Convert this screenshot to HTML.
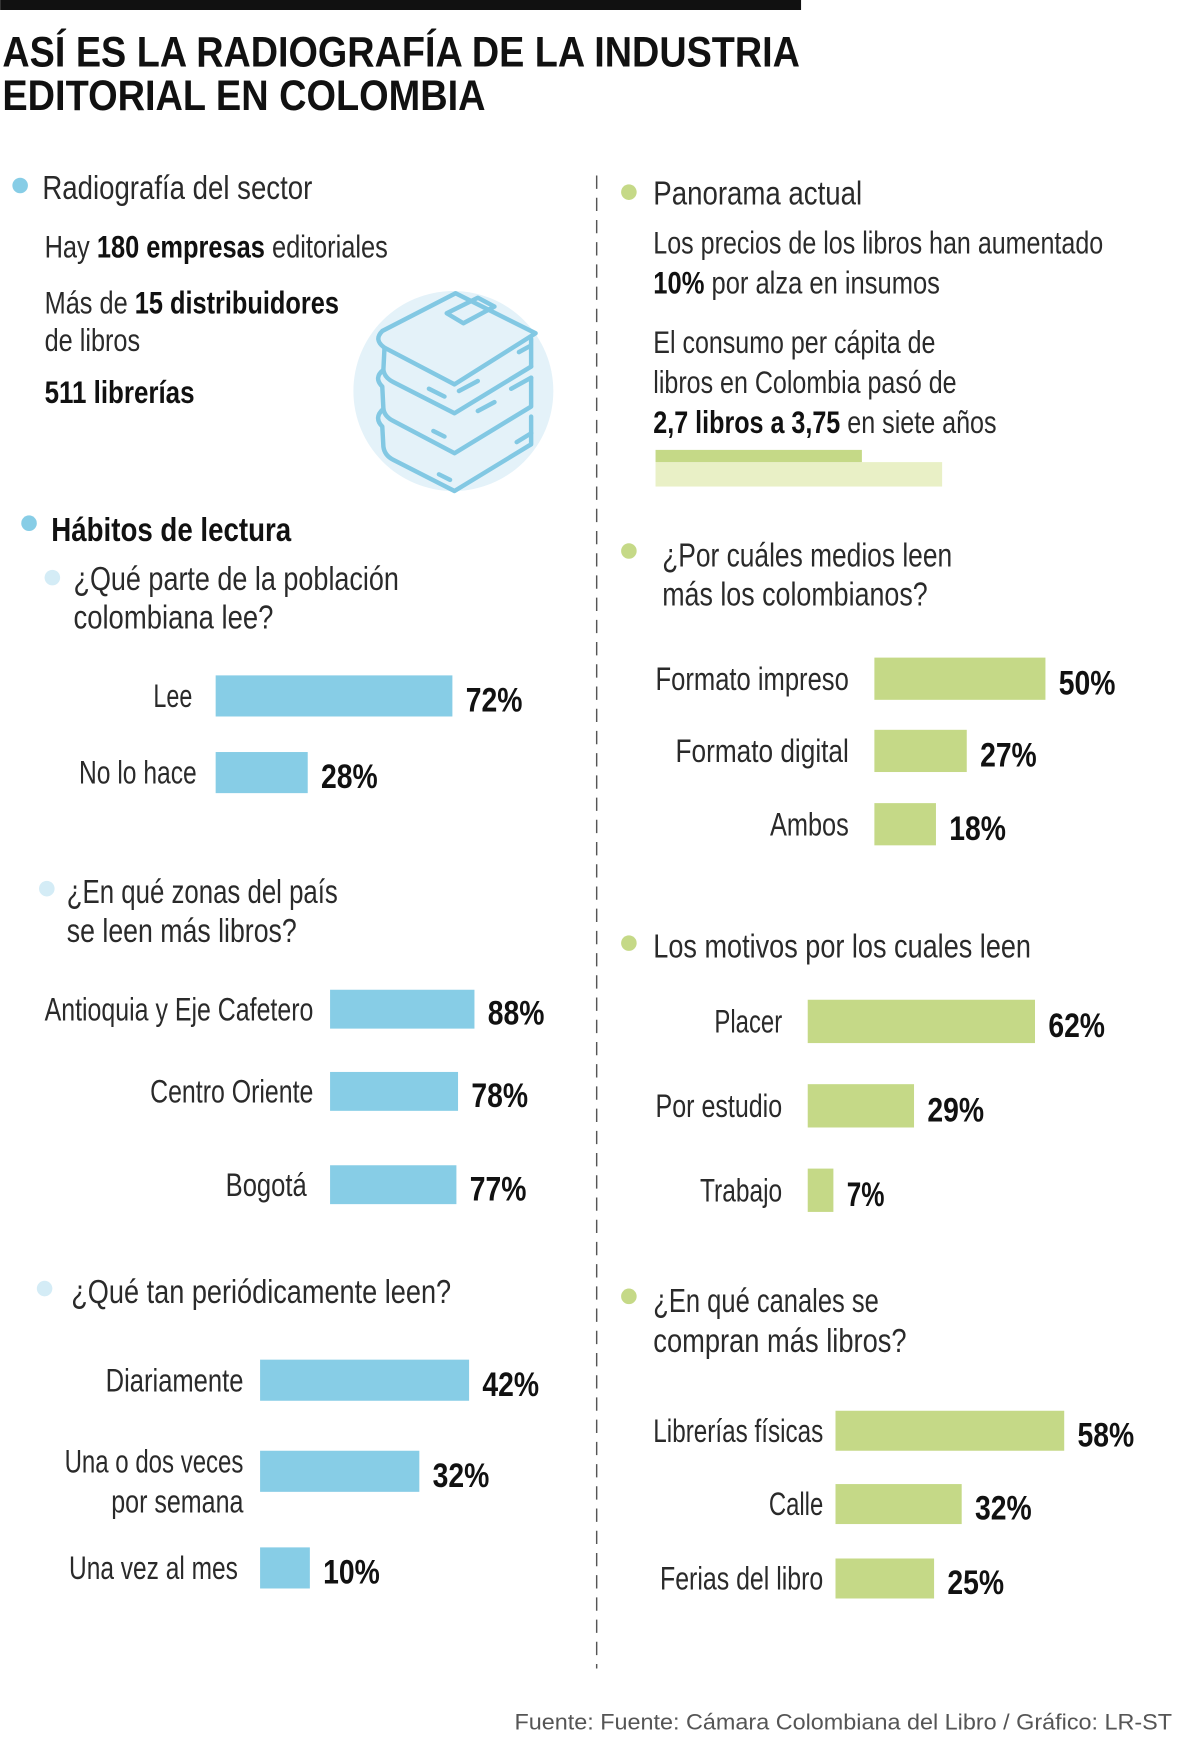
<!DOCTYPE html>
<html><head><meta charset="utf-8">
<style>
html,body{margin:0;padding:0;background:#fff;}
svg{display:block;}
text{font-family:"Liberation Sans Narrow","Liberation Sans",sans-serif;fill:#2a2a2a;}
.b{font-weight:bold;fill:#111;}
.t{font-weight:bold;fill:#111;}
</style></head>
<body>
<svg id="chart" width="1200" height="1754" viewBox="0 0 1080 1579" xmlns="http://www.w3.org/2000/svg">
<rect x="0" y="0" width="721" height="9" fill="#111"/>
<text class="t" x="2" y="60" font-size="38" textLength="718" lengthAdjust="spacingAndGlyphs">ASÍ ES LA RADIOGRAFÍA DE LA INDUSTRIA</text>
<text class="t" x="2" y="99" font-size="38" textLength="435" lengthAdjust="spacingAndGlyphs">EDITORIAL EN COLOMBIA</text>
<line x1="537" y1="158" x2="537" y2="1502" stroke="#555" stroke-width="1.3" stroke-dasharray="12,8"/>

<circle cx="18" cy="167" r="7" fill="#87cde6"/>
<text x="38" y="179" font-size="30" textLength="243" lengthAdjust="spacingAndGlyphs">Radiografía del sector</text>
<text x="40" y="232" font-size="28" textLength="309" lengthAdjust="spacingAndGlyphs">Hay <tspan class="b">180 empresas</tspan> editoriales</text>
<text x="40" y="282" font-size="28" textLength="265" lengthAdjust="spacingAndGlyphs">Más de <tspan class="b">15 distribuidores</tspan></text>
<text x="40" y="316" font-size="28" textLength="86" lengthAdjust="spacingAndGlyphs">de libros</text>
<text class="b" x="40" y="363" font-size="28" textLength="135" lengthAdjust="spacingAndGlyphs">511 librerías</text>
<g>
<circle cx="408" cy="352" r="90" fill="#e4f2f9"/>
<g fill="none" stroke="#82c8e3" stroke-width="4" stroke-linejoin="round" stroke-linecap="round">
<path d="M410 264 L482 300 L409 346 L346 313 Q336 306 344 298 Z"/>
<path d="M402 282 L430 268 L445 276 L417 291 Z"/>
<path d="M346 313 L345 333 Q346 340 354 344 L409 372 L478 330"/>
<path d="M478 305 L478 330 M467 317 L478 311"/>
<path d="M413 352 L430 343 M386 350 L400 357"/>
<path d="M345 333 Q336 340 344 348 L345 368 Q346 375 354 379 L409 408 L478 366 L478 340"/>
<path d="M478 340 L460 350 M430 370 L445 362 M390 388 L400 393"/>
<path d="M345 368 Q336 376 344 384 L345 402 Q346 410 354 414 L409 442 L478 400 L478 375"/>
<path d="M478 390 L465 398 M395 427 L405 432"/>
</g></g>

<circle cx="566" cy="173" r="7" fill="#c5d987"/>
<text x="588" y="184" font-size="30" textLength="188" lengthAdjust="spacingAndGlyphs">Panorama actual</text>
<text x="588" y="228" font-size="28" textLength="405" lengthAdjust="spacingAndGlyphs">Los precios de los libros han aumentado</text>
<text x="588" y="264" font-size="28" textLength="258" lengthAdjust="spacingAndGlyphs"><tspan class="b">10%</tspan> por alza en insumos</text>
<text x="588" y="318" font-size="28" textLength="254" lengthAdjust="spacingAndGlyphs">El consumo per cápita de</text>
<text x="588" y="354" font-size="28" textLength="273" lengthAdjust="spacingAndGlyphs">libros en Colombia pasó de</text>
<text x="588" y="390" font-size="28" textLength="309" lengthAdjust="spacingAndGlyphs"><tspan class="b">2,7 libros a 3,75</tspan> en siete años</text>
<g id="consumo"></g>

<g id="charts"></g>
<text x="463" y="1557" font-size="20" style="font-family:'Liberation Sans',sans-serif;fill:#555" textLength="592" lengthAdjust="spacingAndGlyphs">Fuente: Fuente: Cámara Colombiana del Libro / Gráfico: LR-ST</text>
</svg>
<script>
const NS="http://www.w3.org/2000/svg";
const consumoYears=["antes","ahora"];
const consumoValues=[2.7,3.75];

const leeCats=["Lee","No lo hace"];
const leeVals=[72,28];
const zonasCats=["Antioquia y Eje Cafetero","Centro Oriente","Bogotá"];
const zonasVals=[88,78,77];
const periodCats=[["Diariamente"],["Una o dos veces","por semana"],["Una vez al mes"]];
const periodVals=[42,32,10];
const mediosCats=["Formato impreso","Formato digital","Ambos"];
const mediosVals=[50,27,18];
const motivosCats=["Placer","Por estudio","Trabajo"];
const motivosVals=[62,29,7];
const canalesCats=["Librerías físicas","Calle","Ferias del libro"];
const canalesVals=[58,32,25];

function mk(tag,attrs,parent){const e=document.createElementNS(NS,tag);for(const k in attrs)e.setAttribute(k,attrs[k]);parent.appendChild(e);return e;}

(function(){
  const g=document.getElementById('consumo');
  const x0=590, scale=68.8;
  const r1=mk('rect',{x:x0,y:416,width:consumoValues[1]*scale,height:22,fill:'#e9f0c6'},g);
  
  
  const r0=mk('rect',{x:x0,y:405,width:consumoValues[0]*scale,height:11,fill:'#c5d987'},g);
  
  
})();

const root=document.getElementById('charts');
function section(cfg){
  const g=mk('g',{},root);
  
  
  const d=mk('circle',{cx:cfg.dot[0],cy:cfg.dot[1],r:7,fill:cfg.dotColor},g);
  
  
  cfg.title.forEach((t,i)=>{
    const tx=mk('text',{x:cfg.tx,y:cfg.ty[i],'font-size':30,textLength:cfg.tw[i],lengthAdjust:'spacingAndGlyphs'},g);
    tx.textContent=t;
    
    
  });
  const xs=v=>v*cfg.scale;
  cfg.vals.forEach((v,i)=>{
    const y=cfg.rowY[i], h=cfg.barH;
    const r=mk('rect',{x:cfg.x0,y:y,width:xs(v),height:h,fill:cfg.color},g);
    
    
    const lines=Array.isArray(cfg.cats[i])?cfg.cats[i]:[cfg.cats[i]];
    const widths=Array.isArray(cfg.lw[i])?cfg.lw[i]:[cfg.lw[i]];
    lines.forEach((ln,j)=>{
      const off=lines.length>1?(j===0?-9:27):0;
      const t=mk('text',{x:cfg.x0-cfg.lgap[i],y:y+h/2+10+off,'font-size':29,'text-anchor':'end',textLength:widths[j],lengthAdjust:'spacingAndGlyphs'},g);
      t.textContent=ln;
      
      
    });
    const s=v+'%';
    const vt=mk('text',{x:cfg.x0+xs(v)+12,y:y+h/2+14,'font-size':31,class:'b',textLength:s.length*17,lengthAdjust:'spacingAndGlyphs'},g);
    vt.textContent=s;
    
    
  });
}
const BLUE='#87cde6', GREEN='#c5d987';
(function(){
  const d=mk('circle',{cx:26,cy:471,r:7,fill:BLUE},root);
  
  
  const t=mk('text',{x:46,y:487,'font-size':30,class:'b',textLength:216,lengthAdjust:'spacingAndGlyphs'},root);
  t.textContent='Hábitos de lectura';
  
  
})();
section({name:'lee-chart',dot:[47,520],dotColor:'#d4ecf6',title:['¿Qué parte de la población','colombiana lee?'],tx:66,ty:[531,566],tw:[293,180],
  cats:leeCats,vals:leeVals,x0:194,scale:2.96,rowY:[608,677],barH:37,color:BLUE,lgap:[21,17],lw:[35,106]});
section({name:'zonas-chart',dot:[42,800],dotColor:'#d4ecf6',title:['¿En qué zonas del país','se leen más libros?'],tx:60,ty:[813,848],tw:[244,207],
  cats:zonasCats,vals:zonasVals,x0:297,scale:1.477,rowY:[891,965,1049],barH:35,color:BLUE,lgap:[15,15,21],lw:[242,147,73]});
section({name:'periodicidad-chart',dot:[40,1160],dotColor:'#d4ecf6',title:['¿Qué tan periódicamente leen?'],tx:64,ty:[1173],tw:[342],
  cats:periodCats,vals:periodVals,x0:234,scale:4.48,rowY:[1224,1306,1393],barH:37,color:BLUE,lgap:[15,15,20],lw:[124,[161,119],152]});
section({name:'medios-chart',dot:[566,496],dotColor:GREEN,title:['¿Por cuáles medios leen','más los colombianos?'],tx:596,ty:[510,545],tw:[261,239],
  cats:mediosCats,vals:mediosVals,x0:787,scale:3.08,rowY:[592,657,723],barH:38,color:GREEN,lgap:[23,23,23],lw:[174,156,71]});
section({name:'motivos-chart',dot:[566,849],dotColor:GREEN,title:['Los motivos por los cuales leen'],tx:588,ty:[862],tw:[340],
  cats:motivosCats,vals:motivosVals,x0:727,scale:3.3,rowY:[900,976,1052],barH:39,color:GREEN,lgap:[23,23,23],lw:[61,114,74]});
section({name:'canales-chart',dot:[566,1167],dotColor:GREEN,title:['¿En qué canales se','compran más libros?'],tx:588,ty:[1181,1217],tw:[203,228],
  cats:canalesCats,vals:canalesVals,x0:752,scale:3.55,rowY:[1270,1336,1403],barH:36,color:GREEN,lgap:[11,11,11],lw:[153,49,147]});
</script>
</body></html>
